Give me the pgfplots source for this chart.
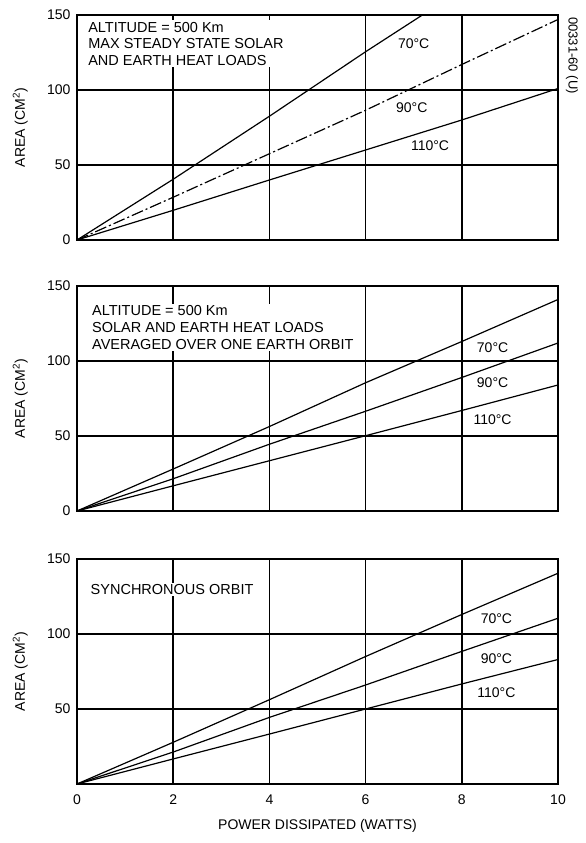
\documentclass[border=0pt]{standalone}
\usepackage{fontspec}
\setmainfont{Liberation Sans}
\usepackage{pgfplots}
\pgfplotsset{compat=1.18}
\tikzset{
  lbl/.style={font=\fontsize{14}{16}\selectfont, anchor=center, inner sep=1pt},
  note/.style={font=\fontsize{14.5}{16.7}\selectfont, anchor=north west, align=left, fill=white, inner sep=1.5pt},
}
\pgfplotsset{
  myax/.style={
    scale only axis, width=481pt, height=225pt,
    xmin=0, xmax=10, ymin=0, ymax=150,
    xtick={0,2,4,6,8,10}, ytick={0,50,100,150},
    grid=major, major grid style={black, line width=1.5pt},
    axis line style={black, line width=1.7pt},
    major tick length=0pt,
    /pgf/number format/assume math mode=true,
    tick label style={font=\fontsize{14}{14}\selectfont},
    yticklabel style={xshift=-3pt},
    ylabel={AREA (CM\textsuperscript{2})},
    ylabel style={font=\fontsize{14}{16}\selectfont, at={(axis description cs:-0.118,0.5)}, anchor=center},
    clip mode=individual,
  },
}
\begin{document}
\begin{tikzpicture}
% ---------------- top ----------------
\begin{axis}[myax, at={(0,544pt)}, xticklabels={}]
\addplot[black, line width=1.2pt] coordinates {(0,0)(2,40.5)(4,82.5)(6,125.5)(8,167)};
\addplot[black, line width=1.2pt, dash pattern=on 12pt off 3pt on 2pt off 3pt] coordinates {(0,0)(2,28.5)(4,57.5)(6,86.5)(8,117)(10,147)};
\addplot[black, line width=1.2pt] coordinates {(0,0)(2,19.8)(4,40)(6,60)(8,80)(10,101)};
\node[note] at (axis cs:0.2,146.5) {ALTITUDE = 500 Km\\MAX STEADY STATE SOLAR\\AND EARTH HEAT LOADS};
\node[lbl] at (axis cs:7.0,131) {70°C};
\node[lbl] at (axis cs:6.96,88.5) {90°C};
\node[lbl] at (axis cs:7.34,62.6) {110°C};
\node[font=\fontsize{13}{15}\selectfont, rotate=-90, anchor=center] at (rel axis cs:1.029,0.82) {00331-60 (U)};
\end{axis}
% ---------------- middle ----------------
\begin{axis}[myax, at={(0,273pt)}, xticklabels={}]
\addplot[black, line width=1.2pt] coordinates {(0,0)(2,28)(4,56.3)(6,85.5)(8,113)(10,141)};
\addplot[black, line width=1.2pt] coordinates {(0,0)(2,21.5)(4,44.5)(6,66.5)(8,89)(10,112)};
\addplot[black, line width=1.2pt] coordinates {(0,0)(2,16.8)(4,33.5)(6,50.2)(8,67)(10,84)};
\node[note] at (axis cs:0.28,138) {ALTITUDE = 500 Km\\SOLAR AND EARTH HEAT LOADS\\AVERAGED OVER ONE EARTH ORBIT};
\node[lbl] at (axis cs:8.64,108.8) {70°C};
\node[lbl] at (axis cs:8.64,85.3) {90°C};
\node[lbl] at (axis cs:8.64,61) {110°C};
\end{axis}
% ---------------- bottom ----------------
\begin{axis}[myax, at={(0,0pt)}, ytick={50,100,150},
  xticklabel style={yshift=-7pt},
  xlabel={POWER DISSIPATED (WATTS)},
  xlabel style={font=\fontsize{14}{16}\selectfont, at={(axis description cs:0.5,0)}, anchor=center, yshift=-42pt}]
\addplot[black, line width=1.2pt] coordinates {(0,0)(2,27.8)(4,56.2)(6,85)(8,113)(10,140.5)};
\addplot[black, line width=1.2pt] coordinates {(0,0)(2,21.3)(4,44.4)(6,66)(8,88.4)(10,110.5)};
\addplot[black, line width=1.2pt] coordinates {(0,0)(2,16.7)(4,33.3)(6,50)(8,66.7)(10,83)};
\node[note] at (axis cs:0.25,134) {SYNCHRONOUS ORBIT};
\node[lbl] at (axis cs:8.72,110) {70°C};
\node[lbl] at (axis cs:8.72,83.3) {90°C};
\node[lbl] at (axis cs:8.72,61) {110°C};
\end{axis}
\pgfresetboundingbox
\path (-77pt,-59pt) rectangle (509pt,784pt);
\end{tikzpicture}
\end{document}
